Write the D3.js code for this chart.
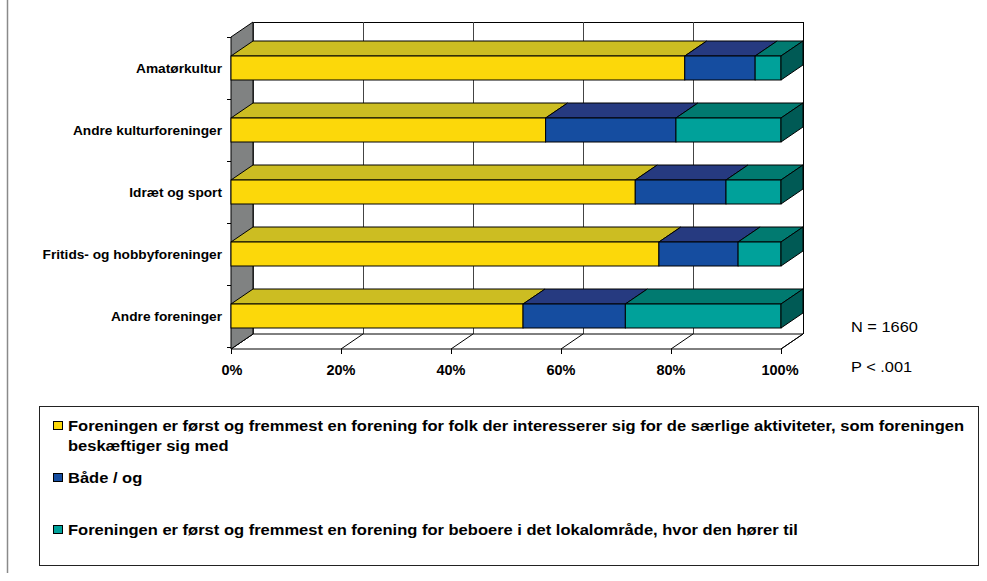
<!DOCTYPE html>
<html><head><meta charset="utf-8">
<script src="https://cdn.jsdelivr.net/npm/d3@7"></script>
<style>body{margin:0;background:#fff}svg{display:block}text{font-family:"Liberation Sans",Arial,sans-serif}</style>
</head><body><svg id="c" width="987" height="581"></svg>
<script>
const categories = ["Amatørkultur","Andre kulturforeninger","Idræt og sport","Fritids- og hobbyforeninger","Andre foreninger"];
const seriesNames = [
  "Foreningen er først og fremmest en forening for folk der interesserer sig for de særlige aktiviteter, som foreningen beskæftiger sig med",
  "Både / og",
  "Foreningen er først og fremmest en forening for beboere i det lokalområde, hvor den hører til"
];
const specialInterest = [82.5, 57.2, 73.5, 77.8, 53.1];
const both = [12.8, 23.7, 16.5, 14.4, 18.6];
const local = [4.7, 19.1, 10.0, 7.8, 28.3];
const tickValues = [0, 20, 40, 60, 80, 100];
const notes = ["N = 1660", "P < .001"];

const frontCol = ["#FCD80A", "#154DA0", "#00A19A"];
const topCol = ["#CCBD22", "#263A80", "#017A70"];
const sideCol = ["#9a8f10", "#18285a", "#005A55"];

const svg = d3.select("#c");
const dx = 22, dy = 15;
const x = d3.scaleLinear().domain([0, 100]).range([231, 781]);
const y = d3.scaleBand().domain(categories).range([37, 347]).paddingInner(0.613).paddingOuter(0.3065);
const yTop = 37, yBot = 349;

// outer left border
svg.append("line").attr("x1", 7.5).attr("x2", 7.5).attr("y1", 0).attr("y2", 573).attr("stroke", "#8a8a8a").attr("stroke-width", 1.5);

const g = svg.append("g");
g.append("line").attr("x1", x(0) + dx).attr("x2", x(100) + dx).attr("y1", yTop - dy + 0.5).attr("y2", yTop - dy + 0.5).attr("stroke", "#000");
tickValues.forEach(t => {
  g.append("line").attr("x1", x(t) + dx + 0.5).attr("x2", x(t) + dx + 0.5).attr("y1", yTop - dy).attr("y2", yBot - dy).attr("stroke", t === 100 ? "#000" : "#444");
});
g.append("path").attr("d", `M${x(0)},${yBot}L${x(0)+dx},${yBot-dy}L${x(100)+dx},${yBot-dy}L${x(100)},${yBot}Z`).attr("fill", "#fff").attr("stroke", "#000");
tickValues.forEach(t => {
  g.append("line").attr("x1", x(t)).attr("x2", x(t) + dx).attr("y1", yBot).attr("y2", yBot - dy).attr("stroke", "#000");
  g.append("line").attr("x1", x(t) + 0.5).attr("x2", x(t) + 0.5).attr("y1", yBot).attr("y2", yBot + 5).attr("stroke", "#000");
});
g.append("path").attr("d", `M${x(0)},${yTop}L${x(0)+dx},${yTop-dy}L${x(0)+dx},${yBot-dy}L${x(0)},${yBot}Z`).attr("fill", "#808282").attr("stroke", "#000");
const edges = categories.map(c => y(c) - y.step() * y.paddingInner() / 2).concat([347]);
edges.forEach(e => g.append("line").attr("x1", 227).attr("x2", x(0)).attr("y1", Math.round(e) + 0.5).attr("y2", Math.round(e) + 0.5).attr("stroke", "#000"));

const series = [specialInterest, both, local];
categories.forEach((c, i) => {
  let cum = 0;
  const y0 = y(c), h = y.bandwidth();
  series.forEach((s, k) => {
    const a = x(cum), b = x(cum + s[i]);
    cum += s[i];
    g.append("path").attr("d", `M${a},${y0}L${a+dx},${y0-dy}L${b+dx},${y0-dy}L${b},${y0}Z`).attr("fill", topCol[k]).attr("stroke", "#000").attr("stroke-linejoin", "round");
    g.append("rect").attr("x", a).attr("y", y0).attr("width", b - a).attr("height", h).attr("fill", frontCol[k]).attr("stroke", "#000");
    if (k === series.length - 1) {
      g.append("path").attr("d", `M${b},${y0}L${b+dx},${y0-dy}L${b+dx},${y0+h-dy}L${b},${y0+h}Z`).attr("fill", sideCol[k]).attr("stroke", "#000");
    }
  });
  svg.append("text").attr("x", 222).attr("y", y0 + h / 2).attr("dy", "0.36em").attr("text-anchor", "end")
    .attr("font-size", 13.7).attr("font-weight", "bold").text(c);
});

tickValues.forEach(t => {
  svg.append("text").attr("x", x(t) + (t === 0 ? 1 : t === 100 ? -1 : 0)).attr("y", 375).attr("text-anchor", "middle")
    .attr("font-size", 14.5).attr("font-weight", "bold").text(t + "%");
});

function stretched(px, py, size, sx, weight, txt) {
  return svg.append("text").attr("transform", `translate(${px},${py}) scale(${sx},1)`)
    .attr("font-size", size).attr("font-weight", weight).text(txt);
}
stretched(851, 331.5, 14, 1.17, "normal", notes[0]);
stretched(851, 371.5, 14, 1.17, "normal", notes[1]);

svg.append("rect").attr("x", 39.5).attr("y", 406.5).attr("width", 939).attr("height", 159).attr("fill", "#fff").attr("stroke", "#222");
const legY = [426, 478, 530];
const lines = [["Foreningen er først og fremmest en forening for folk der interesserer sig for de særlige aktiviteter, som foreningen", "beskæftiger sig med"], [seriesNames[1]], [seriesNames[2]]];
lines.forEach((ls, k) => {
  svg.append("rect").attr("x", 53.5).attr("y", legY[k] - 4.5).attr("width", 9).attr("height", 8).attr("fill", frontCol[k]).attr("stroke", "#000");
  ls.forEach((l, j) => {
    stretched(68, legY[k] + j * 20 + 5, 14, 1.18, "bold", l);
  });
});
</script></body></html>
